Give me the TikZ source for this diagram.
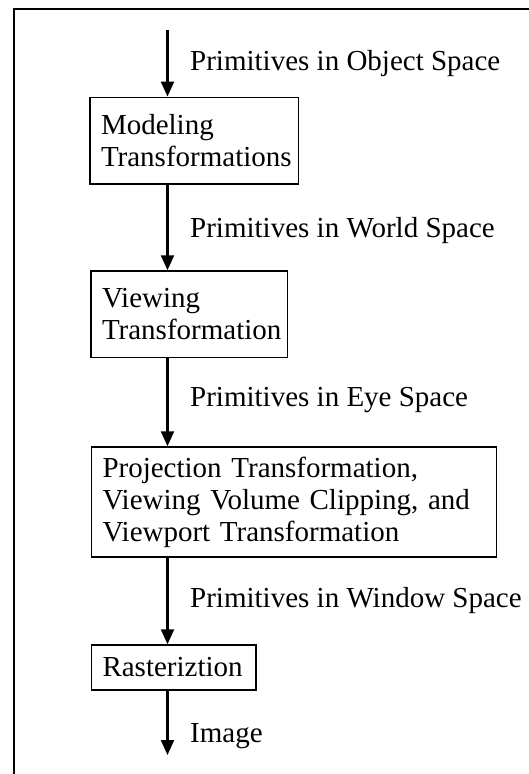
\documentclass[tikz,border=0pt]{standalone}
\usepackage{fontspec}
\setmainfont{Liberation Serif}
\usetikzlibrary{arrows.meta}
\begin{document}
\begin{tikzpicture}[x=1pt, y=-1pt,
  every node/.style={font=\fontsize{29}{32}\selectfont, text=black},
  stage/.style={draw=black, line width=1.5pt, rectangle, inner xsep=11pt,
    inner ysep=0pt, align=left},
  flow/.style={line width=2.2pt, -{Triangle[width=13pt,length=15pt]}},
  caption/.style={anchor=base west, inner sep=0pt},
  frame/.style={line width=2pt}]
  \useasboundingbox (0,0) rectangle (529,774);

  % open frame: left and top edges only
  \coordinate (fbl) at (14,774);
  \coordinate (ftl) at (14,8.5);
  \coordinate (ftr) at (529,8.5);
  \draw[frame] (fbl) -- (ftl) -- (ftr);

  % pipeline stages
  \node[stage, minimum width=208.3pt, minimum height=86.7pt, text width=186.3pt]
    (model) at (194.15,140.65) {Modeling\\Transformations};
  \node[stage, minimum width=196.3pt, minimum height=86.3pt, text width=174.3pt]
    (view) at (189.15,314.15) {Viewing\\Transformation};
  \node[stage, minimum width=405.2pt, minimum height=110pt, text width=383.2pt]
    (proj) at (294.1,502) {Projection Transformation,\\Viewing Volume Clipping, and\\Viewport Transformation};
  \node[stage, minimum width=164.5pt, minimum height=45pt, text width=142.5pt]
    (raster) at (173.75,667.5) {Rasteriztion};

  % vertical data flow
  \coordinate (spine) at (167.5,0);
  \coordinate (src) at (167.5,30);
  \coordinate (sink) at (167.5,755);
  \draw[flow] (src) -- (model.north -| spine);
  \draw[flow] (model.south -| spine) -- (view.north -| spine);
  \draw[flow] (view.south -| spine) -- (proj.north -| spine);
  \draw[flow] (proj.south -| spine) -- (raster.north -| spine);
  \draw[flow] (raster.south -| spine) -- (sink);

  % data between stages
  \node[caption] (cobj) at (190,70) {Primitives in Object Space};
  \node[caption] (cworld) at (190,237) {Primitives in World Space};
  \node[caption] (ceye) at (190,406.5) {Primitives in Eye Space};
  \node[caption] (cwin) at (190,607.5) {Primitives in Window Space};
  \node[caption] (cimg) at (190,742) {Image};
\end{tikzpicture}
\end{document}
